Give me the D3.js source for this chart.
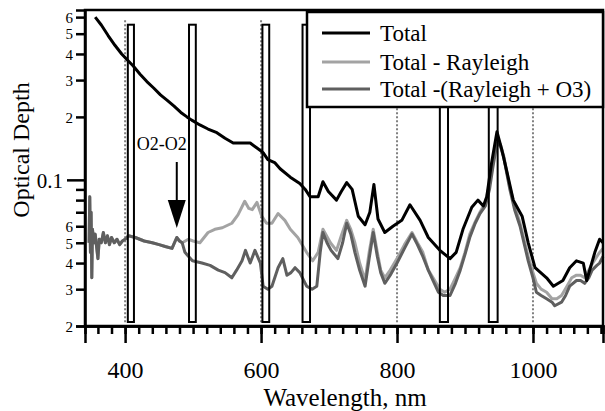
<!DOCTYPE html>
<html><head><meta charset="utf-8">
<script src="https://cdn.jsdelivr.net/npm/d3@7"></script>
<style>html,body{margin:0;padding:0;background:#fff;}svg{display:block;}
svg text{font-family:"Liberation Serif","Times New Roman","Nimbus Roman","DejaVu Serif",serif !important;}</style>
</head><body>
<svg id="chart" width="605" height="411"></svg>
<script>
// ---- data ----
const seriesNames = ["Total", "Total - Rayleigh", "Total -(Rayleigh + O3)"];

const totalData = [[356,0.60],[365,0.55],[375,0.49],[385,0.44],[395,0.40],[403,0.375],[412,0.35],[422,0.32],[432,0.295],[442,0.275],[452,0.255],[462,0.24],[472,0.225],[482,0.21],[491,0.20],[498,0.193],[510,0.183],[522,0.175],[535,0.168],[547,0.158],[559,0.15],[572,0.15],[584,0.15],[594,0.142],[603,0.135],[610,0.125],[620,0.121],[628,0.113],[643,0.103],[657,0.096],[665,0.09],[672,0.083],[684,0.083],[691,0.098],[699,0.088],[711,0.08],[718,0.088],[726,0.097],[734,0.09],[743,0.067],[753,0.061],[760,0.07],[766,0.095],[772,0.065],[782,0.056],[794,0.06],[807,0.064],[819,0.076],[834,0.064],[846,0.053],[863,0.046],[878,0.042],[887,0.045],[897,0.058],[910,0.074],[919,0.08],[927,0.075],[932,0.083],[939,0.12],[947,0.17],[954,0.14],[962,0.108],[971,0.08],[984,0.067],[993,0.05],[1003,0.038],[1020,0.034],[1030,0.031],[1044,0.033],[1054,0.038],[1064,0.041],[1074,0.040],[1079,0.033],[1091,0.045],[1098,0.052],[1103,0.05]];

const minusRayleighData = [[347,0.05],[348,0.083],[349,0.045],[350,0.07],[351,0.034],[352,0.058],[354,0.05],[356,0.055],[358,0.048],[360,0.042],[362,0.052],[365,0.05],[368,0.056],[371,0.05],[374,0.054],[377,0.049],[380,0.053],[384,0.05],[388,0.052],[392,0.049],[396,0.051],[400,0.052],[405,0.054],[415,0.053],[428,0.051],[440,0.05],[450,0.049],[459,0.048],[469,0.047],[476,0.053],[480,0.051],[484,0.05],[493,0.052],[500,0.051],[510,0.05],[522,0.056],[532,0.058],[543,0.059],[557,0.062],[566,0.068],[576,0.079],[582,0.073],[587,0.072],[594,0.078],[601,0.067],[608,0.062],[616,0.062],[625,0.069],[635,0.064],[643,0.058],[654,0.053],[667,0.045],[676,0.041],[684,0.045],[691,0.058],[702,0.05],[711,0.046],[718,0.054],[726,0.064],[732,0.058],[738,0.05],[745,0.04],[753,0.033],[759,0.045],[765,0.058],[771,0.045],[776,0.037],[782,0.034],[790,0.037],[800,0.042],[811,0.049],[822,0.056],[830,0.05],[838,0.045],[846,0.037],[853,0.034],[863,0.03],[870,0.029],[878,0.03],[886,0.034],[893,0.038],[900,0.045],[907,0.055],[915,0.063],[922,0.07],[930,0.078],[936,0.095],[941,0.12],[947,0.155],[952,0.148],[957,0.13],[966,0.092],[973,0.075],[981,0.062],[988,0.05],[993,0.043],[1000,0.036],[1005,0.032],[1012,0.03],[1020,0.029],[1028,0.027],[1035,0.027],[1042,0.028],[1050,0.031],[1057,0.034],[1064,0.035],[1070,0.035],[1076,0.034],[1082,0.037],[1088,0.04],[1094,0.043],[1098,0.045],[1103,0.047]];

const minusRayleighO3Data = [[347,0.05],[348,0.083],[349,0.045],[350,0.07],[351,0.034],[352,0.058],[354,0.05],[356,0.055],[358,0.048],[360,0.042],[362,0.052],[365,0.05],[368,0.056],[371,0.05],[374,0.054],[377,0.049],[380,0.053],[384,0.05],[388,0.052],[392,0.049],[396,0.051],[400,0.052],[405,0.054],[415,0.053],[428,0.051],[440,0.05],[450,0.049],[459,0.048],[469,0.047],[476,0.053],[480,0.051],[484,0.05],[488,0.045],[499,0.041],[513,0.04],[525,0.039],[537,0.037],[547,0.036],[557,0.034],[564,0.037],[572,0.041],[577,0.046],[584,0.040],[591,0.046],[599,0.040],[603,0.031],[610,0.03],[616,0.031],[625,0.038],[632,0.042],[638,0.035],[644,0.036],[650,0.038],[657,0.036],[667,0.031],[675,0.03],[682,0.031],[687,0.045],[691,0.056],[697,0.05],[703,0.046],[713,0.042],[720,0.05],[726,0.062],[732,0.055],[738,0.045],[745,0.037],[753,0.031],[759,0.042],[765,0.056],[771,0.043],[776,0.036],[782,0.032],[790,0.035],[800,0.040],[811,0.047],[822,0.055],[830,0.049],[838,0.043],[846,0.037],[853,0.033],[861,0.029],[868,0.028],[878,0.028],[886,0.032],[893,0.037],[900,0.044],[907,0.053],[915,0.062],[922,0.069],[930,0.075],[936,0.09],[941,0.115],[947,0.15],[952,0.145],[957,0.128],[966,0.09],[973,0.072],[981,0.06],[988,0.048],[993,0.041],[1000,0.034],[1005,0.029],[1012,0.028],[1020,0.027],[1028,0.026],[1032,0.025],[1042,0.026],[1048,0.028],[1054,0.031],[1064,0.033],[1070,0.033],[1076,0.032],[1082,0.034],[1087,0.037],[1094,0.039],[1098,0.04],[1103,0.043]];

// absorption bands (nm)
const bands = [[404,413],[494,504],[602,612],[661,672],[863,875],[935,948]];
// dotted reference wavelengths
const refLines = [400, 600, 800, 1000];
// tick definitions
const xMajorTicks = [400, 600, 800, 1000];
const xMinorTicks = d3.range(360, 1101, 20);
const yTickValues = [0.02,0.03,0.04,0.05,0.06,0.07,0.08,0.09,0.1,0.2,0.3,0.4,0.5,0.6];
const yTickLabels = ["2","3","4","5","6","","","","0.1","2","3","4","5","6"];
const annotationText = "O2-O2";
const annotationWavelength = 476;

// ---- layout ----
const svg = d3.select("#chart");
const L = 85, R = 603, T = 10, B = 326;
const x = d3.scaleLinear().domain([341, 1103]).range([L, R]);
const y = d3.scaleLog().domain([0.02, 0.649]).range([B, T]);
const serif = "Liberation Serif";

const gPlot = svg.append("g");

// dotted vertical reference lines
gPlot.selectAll("line.ref").data(refLines).enter().append("line")
  .attr("x1", d => x(d)).attr("x2", d => x(d))
  .attr("y1", y(0.58)).attr("y2", y(0.0207))
  .attr("stroke", "#808080").attr("stroke-width", 2)
  .attr("stroke-dasharray", "2,2");

// curves
const line = d3.line().x(d => x(d[0])).y(d => y(d[1]));
const series = [
  {data: minusRayleighData, color: "#a3a3a3"},
  {data: minusRayleighO3Data, color: "#5f5f5f"},
  {data: totalData, color: "#000"}
];
series.forEach(s => {
  gPlot.append("path").datum(s.data).attr("d", line)
    .attr("fill", "none").attr("stroke", s.color).attr("stroke-width", 3)
    .attr("stroke-linejoin", "round");
});

// band rectangles
gPlot.selectAll("rect.band").data(bands).enter().append("rect")
  .attr("x", d => x(d[0])).attr("width", d => x(d[1]) - x(d[0]))
  .attr("y", y(0.552)).attr("height", y(0.0209) - y(0.552))
  .attr("fill", "none").attr("stroke", "#000").attr("stroke-width", 2);

// frame
svg.append("rect").attr("x", L).attr("y", T).attr("width", R - L).attr("height", B - T)
  .attr("fill", "none").attr("stroke", "#000").attr("stroke-width", 2.5);

// x axis
const xMinor = svg.append("g").attr("transform", `translate(0,${B})`)
  .call(d3.axisBottom(x).tickValues(xMinorTicks).tickSize(8).tickFormat(""));
const xMajor = svg.append("g").attr("transform", `translate(0,${B})`)
  .call(d3.axisBottom(x).tickValues(xMajorTicks).tickSize(17).tickFormat(d3.format("d")));
[xMinor, xMajor].forEach(g => {
  g.attr("font-family", serif);
  g.select(".domain").attr("stroke-width", 2.5);
  g.selectAll(".tick line").attr("stroke-width", 2.5);
});
xMajor.selectAll(".tick text").style("font-family", serif).attr("font-size", 24)
  .attr("fill", "#000").attr("y", 0).attr("dy", 0)
  .attr("transform", `translate(0,52)`);

// y axis
const yAxis = svg.append("g").attr("transform", `translate(${L},0)`)
  .call(d3.axisLeft(y).tickValues(yTickValues)
    .tickSize(9).tickFormat((d, i) => yTickLabels[i]));
yAxis.attr("font-family", serif);
yAxis.select(".domain").attr("stroke-width", 2.5);
yAxis.selectAll(".tick line").attr("stroke-width", 2.5)
  .attr("x2", d => d === 0.1 ? -18 : -9);
yAxis.selectAll(".tick text").style("font-family", serif).attr("fill", "#000")
  .attr("font-size", d => d === 0.1 ? 21 : 15)
  .attr("x", d => d === 0.1 ? -22 : -12)
  .attr("dy", "0.35em");

// axis titles
svg.append("text").attr("x", 345).attr("y", 406).attr("text-anchor", "middle")
  .style("font-family", serif).attr("font-size", 25).text("Wavelength, nm");
svg.append("text").attr("transform", "translate(29,150) rotate(-90)")
  .attr("text-anchor", "middle").style("font-family", serif).attr("font-size", 24)
  .text("Optical Depth");

// annotation
const ax = x(annotationWavelength);
svg.append("text").attr("x", ax - 15).attr("y", 150).attr("text-anchor", "middle")
  .style("font-family", serif).attr("font-size", 18).text(annotationText);
svg.append("line").attr("x1", ax).attr("x2", ax).attr("y1", 162).attr("y2", 202)
  .attr("stroke", "#000").attr("stroke-width", 2);
svg.append("path").attr("d", `M${ax-9},200 L${ax+9},200 L${ax},228 Z`).attr("fill", "#000");

// legend
const lg = svg.append("g");
lg.append("rect").attr("x", 307).attr("y", 12).attr("width", 296).attr("height", 95)
  .attr("fill", "#fff").attr("stroke", "#000").attr("stroke-width", 2.5);
const legendColors = ["#000", "#a3a3a3", "#5f5f5f"];
const legendY = [33, 62, 89];
seriesNames.forEach((name, i) => {
  lg.append("line").attr("x1", 322).attr("x2", 370).attr("y1", legendY[i]).attr("y2", legendY[i])
    .attr("stroke", legendColors[i]).attr("stroke-width", 3);
  lg.append("text").attr("x", 380).attr("y", legendY[i] + 8)
    .style("font-family", serif).attr("font-size", 23).text(name);
});
</script>
</body></html>
